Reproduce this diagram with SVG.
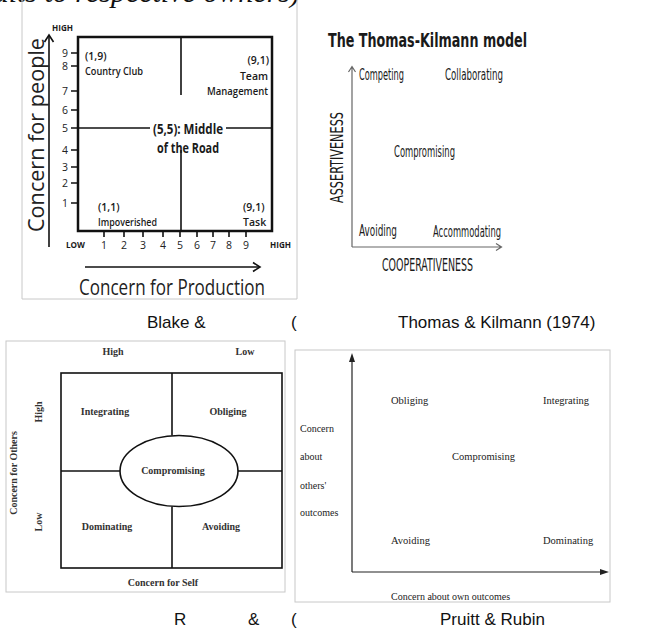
<svg xmlns="http://www.w3.org/2000/svg" width="650" height="634" viewBox="0 0 650 634">
  <defs>
    <style>
      .frame { fill: none; stroke: #c8c8c8; stroke-width: 1; }
      .grid { fill: none; stroke: #111; stroke-width: 2.5; }
      .thin { fill: none; stroke: #111; stroke-width: 1.6; }
      .gray { fill: none; stroke: #666; stroke-width: 1.2; }
      .ax { fill: none; stroke: #222; stroke-width: 1.2; }
      .tl { font-family: "Open Sans", "Liberation Sans", sans-serif; font-weight: 600; fill: #1a1a1a; }
      .tln { font-family: "Open Sans", "Liberation Sans", sans-serif; font-weight: normal; fill: #222; }
      .tlb { font-family: "Open Sans", "Liberation Sans", sans-serif; font-weight: bold; fill: #1a1a1a; }
      .tk { font-family: "DejaVu Sans Condensed", "Liberation Sans", sans-serif; fill: #1a1a1a; }
      .srf { font-family: "Liberation Serif", "Times New Roman", serif; fill: #222; }
      .srfb { font-family: "Liberation Serif", "Times New Roman", serif; font-weight: bold; fill: #333; }
      .cap { font-family: "Liberation Sans", Arial, sans-serif; font-size: 17px; fill: #111; }
    </style>
  </defs>
  <rect width="650" height="634" fill="#fff"/>

  <!-- heading line, cut by the top edge -->
  <text x="300" y="2" text-anchor="end" font-family="Liberation Serif, serif" font-style="italic" font-size="30" fill="#111">(credits to respective owners)</text>

  <!-- Blake & Mouton managerial grid -->
  <g id="managerial-grid">
    <path class="frame" d="M22,0 V299 H297 V0"/>
    <rect class="grid" x="78" y="37" width="194" height="194"/>
    <g id="grid-connectors">
      <line class="thin" x1="181" y1="37" x2="181" y2="95"/>
      <line class="thin" x1="181" y1="150" x2="181" y2="231"/>
      <line class="thin" x1="78" y1="128" x2="150" y2="128"/>
      <line class="thin" x1="226" y1="128" x2="272" y2="128"/>
      <!-- axis arrows -->
      <line class="thin" x1="49" y1="247" x2="49" y2="36"/>
      <path class="thin" d="M44.5,42 L49,35 L53.5,42"/>
      <line class="thin" x1="85" y1="267" x2="259" y2="267"/>
      <path class="thin" d="M253,262.5 L260,267 L253,271.5"/>
      <!-- y ticks -->
      <path class="thin" stroke-width="1.2" d="M71,53 H78 M71,66 H78 M71,91 H78 M71,110 H78 M71,128 H78 M71,150 H78 M71,167 H78 M71,183 H78 M71,203 H78"/>
      <!-- x ticks -->
      <path class="thin" stroke-width="1.2" d="M104,231 V237 M124,231 V237 M143,231 V237 M163,231 V237 M180,231 V237 M197,231 V237 M213,231 V237 M229,231 V237 M246,231 V237"/>
    </g>
    <g font-size="10.5" class="tln" text-anchor="middle">
      <text x="65" y="56.5">9</text>
      <text x="65" y="70">8</text>
      <text x="65" y="95">7</text>
      <text x="65" y="114">6</text>
      <text x="65" y="132">5</text>
      <text x="65" y="154">4</text>
      <text x="65" y="171">3</text>
      <text x="65" y="187">2</text>
      <text x="65" y="207">1</text>
      <text x="104" y="249">1</text>
      <text x="124" y="249">2</text>
      <text x="143" y="249">3</text>
      <text x="163" y="249">4</text>
      <text x="180" y="249">5</text>
      <text x="197" y="249">6</text>
      <text x="213" y="249">7</text>
      <text x="229" y="249">8</text>
      <text x="246" y="249">9</text>
    </g>
    <text class="tlb" x="52" y="31" font-size="8.5" textLength="21" lengthAdjust="spacingAndGlyphs">HIGH</text>
    <text class="tlb" x="66" y="248" font-size="8.5" textLength="19" lengthAdjust="spacingAndGlyphs">LOW</text>
    <text class="tlb" x="270" y="248" font-size="8.5" textLength="21" lengthAdjust="spacingAndGlyphs">HIGH</text>

    <text class="tl" x="85" y="60" font-size="10.5">(1,9)</text>
    <text class="tl" x="85" y="75" font-size="10.5" textLength="58" lengthAdjust="spacingAndGlyphs">Country Club</text>
    <text class="tl" x="269" y="64" font-size="10.5" text-anchor="end">(9,1)</text>
    <text class="tl" x="268" y="80" font-size="10.5" text-anchor="end">Team</text>
    <text class="tl" x="268" y="95" font-size="10.5" text-anchor="end" textLength="61" lengthAdjust="spacingAndGlyphs">Management</text>
    <text class="tl" x="98" y="211" font-size="10.5">(1,1)</text>
    <text class="tl" x="98" y="226" font-size="10.5" textLength="59" lengthAdjust="spacingAndGlyphs">Impoverished</text>
    <text class="tl" x="243" y="211" font-size="10.5">(9,1)</text>
    <text class="tl" x="243" y="226" font-size="10.5">Task</text>
    <text class="tlb" x="153" y="134" font-size="13.5" textLength="70" lengthAdjust="spacingAndGlyphs">(5,5): Middle</text>
    <text class="tlb" x="157" y="153" font-size="13.5" textLength="62" lengthAdjust="spacingAndGlyphs">of the Road</text>

    <text class="tln" font-size="22" fill="#333" transform="translate(44,135) rotate(-90)" text-anchor="middle" textLength="194" lengthAdjust="spacingAndGlyphs">Concern for people</text>
    <text class="tln" x="79" y="295" font-size="22" fill="#333" textLength="186" lengthAdjust="spacingAndGlyphs">Concern for Production</text>
  </g>

  <!-- Thomas-Kilmann model -->
  <g id="thomas-kilmann">
    <text class="tk" x="328" y="47" font-size="20" font-weight="bold" textLength="199" lengthAdjust="spacingAndGlyphs">The Thomas-Kilmann model</text>
    <g id="tk-connectors">
      <path class="gray" d="M352,247 V67 M348.5,72 L352,66.5 L355.5,72"/>
      <path class="gray" d="M352,247 H501 M496,243.5 L501.5,247 L496,250.5"/>
    </g>
    <g class="tk" font-size="15">
      <text x="359" y="80" textLength="45" lengthAdjust="spacingAndGlyphs">Competing</text>
      <text x="445" y="80" textLength="58" lengthAdjust="spacingAndGlyphs">Collaborating</text>
      <text x="394" y="157" textLength="61" lengthAdjust="spacingAndGlyphs">Compromising</text>
      <text x="359" y="236" textLength="38" lengthAdjust="spacingAndGlyphs">Avoiding</text>
      <text x="433" y="237" textLength="68" lengthAdjust="spacingAndGlyphs">Accommodating</text>
    </g>
    <text class="tk" x="382" y="271" font-size="17" textLength="91" lengthAdjust="spacingAndGlyphs">COOPERATIVENESS</text>
    <text class="tk" font-size="17" transform="translate(343,203) rotate(-90)" textLength="91" lengthAdjust="spacingAndGlyphs">ASSERTIVENESS</text>
  </g>

  <!-- captions, upper row -->
  <g id="captions-top" class="cap">
    <text x="147" y="328">Blake &amp;</text>
    <text x="291" y="328">(</text>
    <text x="398" y="328">Thomas &amp; Kilmann (1974)</text>
  </g>

  <!-- Rahim grid -->
  <g id="rahim-grid">
    <rect class="frame" x="6" y="341" width="279" height="251"/>
    <rect class="thin" x="61" y="373" width="221" height="195" stroke-width="1.8"/>
    <g id="rahim-connectors">
      <line class="thin" stroke-width="1.8" x1="172" y1="373" x2="172" y2="435.5"/>
      <line class="thin" stroke-width="1.8" x1="172" y1="506.5" x2="172" y2="568"/>
      <line class="thin" stroke-width="1.8" x1="61" y1="471" x2="120" y2="471"/>
      <line class="thin" stroke-width="1.8" x1="238" y1="471" x2="282" y2="471"/>
    </g>
    <ellipse class="thin" stroke-width="1.8" cx="179" cy="471" rx="59" ry="35.5"/>
    <g class="srfb" font-size="10" text-anchor="middle">
      <text x="113" y="355">High</text>
      <text x="245" y="355">Low</text>
      <text x="105" y="415">Integrating</text>
      <text x="228" y="415">Obliging</text>
      <text x="173" y="474">Compromising</text>
      <text x="107" y="530">Dominating</text>
      <text x="221" y="530">Avoiding</text>
      <text x="163" y="586">Concern for Self</text>
      <text transform="translate(17,473) rotate(-90)">Concern for Others</text>
      <text transform="translate(42,412) rotate(-90)">High</text>
      <text transform="translate(42,522) rotate(-90)">Low</text>
    </g>
  </g>

  <!-- Pruitt & Rubin dual concern model -->
  <g id="dual-concern">
    <rect class="frame" x="295" y="350" width="315" height="252"/>
    <g id="dual-connectors">
      <line class="ax" x1="352" y1="572" x2="352" y2="360"/>
      <path d="M349,362 L352,353 L355,362 Z" fill="#222"/>
      <line class="ax" x1="352" y1="572" x2="602" y2="572"/>
      <path d="M600,569 L609,572 L600,575 Z" fill="#222"/>
    </g>
    <g class="srf" font-size="10.5">
      <text x="391" y="404">Obliging</text>
      <text x="543" y="404">Integrating</text>
      <text x="452" y="460">Compromising</text>
      <text x="391" y="544">Avoiding</text>
      <text x="543" y="544">Dominating</text>
      <text x="391" y="600" font-size="10">Concern about own outcomes</text>
      <text x="300" y="432" font-size="10">Concern</text>
      <text x="300" y="460" font-size="10">about</text>
      <text x="300" y="489" font-size="10">others'</text>
      <text x="300" y="516" font-size="10">outcomes</text>
    </g>
  </g>

  <!-- captions, lower row -->
  <g id="captions-bottom" class="cap">
    <text x="174" y="625">R</text>
    <text x="248" y="625">&amp;</text>
    <text x="291" y="625">(</text>
    <text x="440" y="625">Pruitt &amp; Rubin</text>
  </g>
</svg>
